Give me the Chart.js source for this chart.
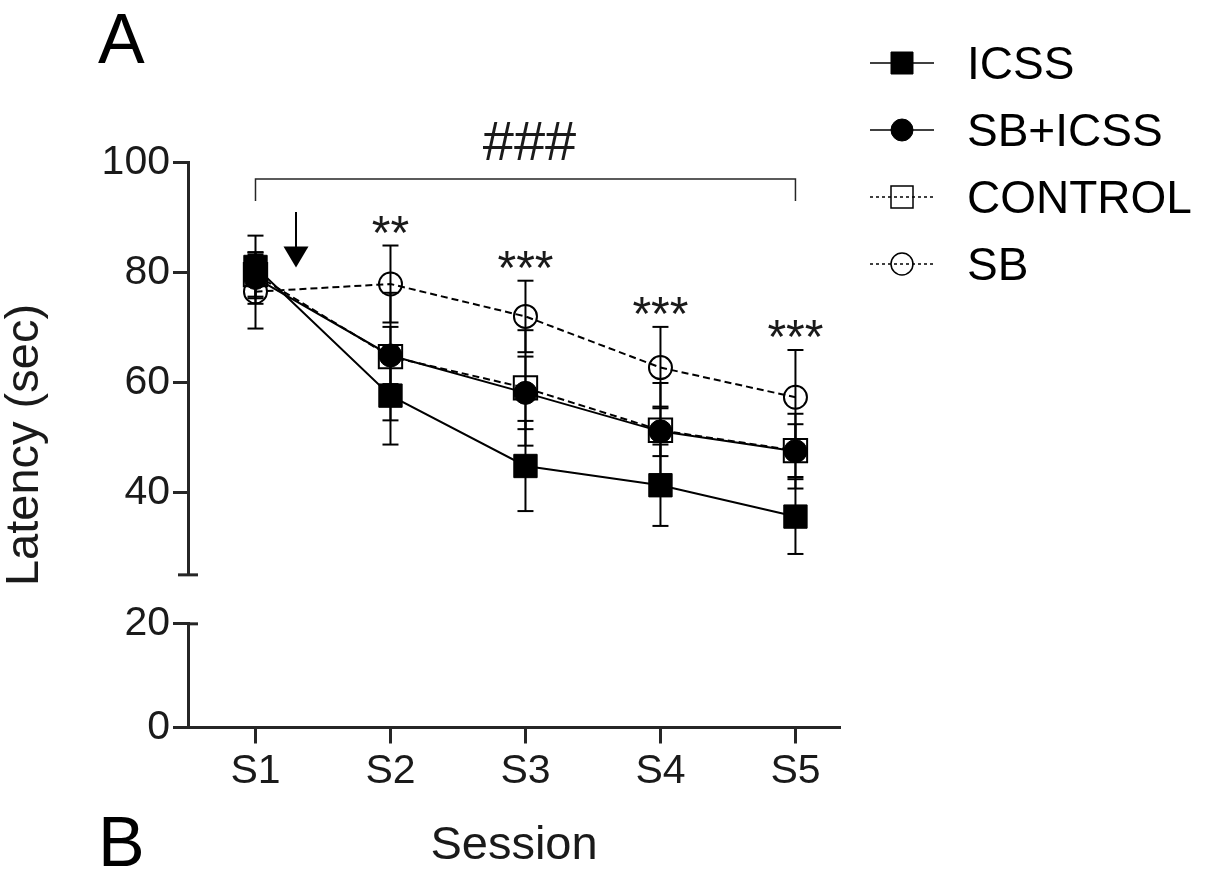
<!DOCTYPE html>
<html>
<head>
<meta charset="utf-8">
<script src="https://cdn.jsdelivr.net/npm/chart.js@4.4.1/dist/chart.umd.min.js"></script>
<style>
html, body { margin: 0; padding: 0; background: #fff; }
#wrap { position: relative; width: 1205px; height: 870px; }
</style>
</head>
<body>
<div id="wrap"><canvas id="latency" width="1205" height="870"></canvas></div>
<script>
var sessions = ['S1', 'S2', 'S3', 'S4', 'S5'];
var icssMean = [81.0, 57.6, 44.8, 41.3, 35.6];
var icssSem = [5.7, 8.9, 8.2, 7.4, 6.8];
var sbIcssMean = [79.0, 64.9, 58.1, 51.1, 47.5];
var sbIcssSem = [4.7, 5.2, 6.6, 4.5, 6.8];
var controlMean = [79.6, 64.7, 59.0, 51.3, 47.6];
var controlSem = [4.0, 11.6, 10.5, 8.6, 4.8];
var sbMean = [76.5, 77.9, 72.0, 62.7, 57.3];
var sbSem = [6.7, 7.0, 6.5, 7.4, 8.6];
var upperTicks = [40, 60, 80, 100];
var lowerTicks = [0, 20];
var stars = ['', '**', '***', '***', '***'];

var FONT = "'Liberation Sans', Arial, sans-serif";
var AXIS = '#262626';
var INK = '#1a1a1a';

function series(label, mean, sem, style, filled, dashed) {
    var r = style === 'rect' ? 16.5 : 11.5;
    return {
        label: label,
        data: mean.map(function (v, i) { return { x: i + 1, y: v }; }),
        sem: sem,
        filled: filled,
        borderColor: '#000',
        borderWidth: 2,
        borderDash: dashed ? [7, 4] : [],
        pointStyle: style,
        pointRadius: r,
        pointHoverRadius: r,
        pointBackgroundColor: filled ? '#000' : 'rgba(0,0,0,0)',
        pointBorderColor: '#000',
        pointBorderWidth: filled ? 1 : 2,
        tension: 0,
        fill: false,
        xAxisID: 'x',
        yAxisID: 'y'
    };
}

function line(ctx, x1, y1, x2, y2) {
    ctx.beginPath();
    ctx.moveTo(x1, y1);
    ctx.lineTo(x2, y2);
    ctx.stroke();
}

// puts the glyphs (not the em box) centred on cx, cy
function centerText(ctx, text, cx, cy) {
    var m = ctx.measureText(text);
    ctx.textAlign = 'center';
    ctx.textBaseline = 'alphabetic';
    ctx.fillText(text, cx, cy + (m.actualBoundingBoxAscent - m.actualBoundingBoxDescent) / 2);
}

var extras = {
    id: 'extras',
    beforeDatasetsDraw: function (chart) {
        // error bars (SEM)
        var ctx = chart.ctx, x = chart.scales.x, y = chart.scales.y;
        ctx.save();
        ctx.strokeStyle = '#000';
        ctx.lineWidth = 2;
        chart.data.datasets.forEach(function (ds) {
            ds.data.forEach(function (p, i) {
                var px = x.getPixelForValue(p.x);
                var top = y.getPixelForValue(p.y + ds.sem[i]);
                var bot = y.getPixelForValue(p.y - ds.sem[i]);
                line(ctx, px, top, px, bot);
                line(ctx, px - 8, top, px + 8, top);
                line(ctx, px - 8, bot, px + 8, bot);
            });
        });
        ctx.restore();
    },
    afterDraw: function (chart) {
        var ctx = chart.ctx, x = chart.scales.x, y = chart.scales.y, low = chart.scales.yLow;
        var ax = chart.chartArea.left;
        ctx.save();

        // axis break marks
        ctx.strokeStyle = AXIS;
        ctx.lineWidth = 3;
        line(ctx, ax - 10, y.bottom, ax + 10, y.bottom);
        var p20 = low.getPixelForValue(20);
        line(ctx, ax, p20, ax + 10, p20);

        // ### bracket S1..S5
        ctx.lineWidth = 1.5;
        var bx1 = x.getPixelForValue(1), bx2 = x.getPixelForValue(5);
        var by = y.getPixelForValue(97), bf = y.getPixelForValue(93);
        ctx.beginPath();
        ctx.moveTo(bx1, bf);
        ctx.lineTo(bx1, by);
        ctx.lineTo(bx2, by);
        ctx.lineTo(bx2, bf);
        ctx.stroke();
        ctx.fillStyle = INK;
        ctx.font = '56px ' + FONT;
        centerText(ctx, '###', x.getPixelForValue(3.03), y.getPixelForValue(103.9));

        // arrow after S1
        var arx = x.getPixelForValue(1.3);
        var a1 = y.getPixelForValue(91), a2 = y.getPixelForValue(84.7), a3 = y.getPixelForValue(80.9);
        ctx.strokeStyle = '#000';
        ctx.fillStyle = '#000';
        ctx.lineWidth = 2;
        line(ctx, arx, a1, arx, a2 + 1);
        ctx.beginPath();
        ctx.moveTo(arx - 12.5, a2);
        ctx.lineTo(arx + 12.5, a2);
        ctx.lineTo(arx, a3);
        ctx.closePath();
        ctx.fill();

        // significance stars above SB error bars
        ctx.fillStyle = INK;
        ctx.font = '48px ' + FONT;
        stars.forEach(function (s, i) {
            if (!s) return;
            centerText(ctx, s, x.getPixelForValue(i + 1), y.getPixelForValue(sbMean[i] + sbSem[i]) - 21);
        });

        // panel letters
        ctx.font = '70px ' + FONT;
        ctx.textAlign = 'left';
        ctx.textBaseline = 'alphabetic';
        ctx.fillStyle = '#000';
        ctx.fillText('A', 98, 63);
        ctx.fillText('B', 98, 866);

        // legend
        chart.data.datasets.forEach(function (ds, k) {
            var cy = 63 + k * 67, cx = 902;
            ctx.strokeStyle = '#000';
            ctx.lineWidth = 1.5;
            ctx.setLineDash(ds.borderDash.length ? [3, 3] : []);
            line(ctx, 870, cy, 934, cy);
            ctx.setLineDash([]);
            ctx.lineWidth = ds.filled ? 1 : 1.5;
            ctx.beginPath();
            if (ds.pointStyle === 'rect') {
                ctx.rect(cx - 11, cy - 11, 22, 22);
            } else {
                ctx.arc(cx, cy, 11, 0, Math.PI * 2);
            }
            if (ds.filled) {
                ctx.fill();
            }
            ctx.stroke();
            ctx.fillStyle = '#000';
            ctx.font = '46px ' + FONT;
            var m = ctx.measureText(ds.label);
            ctx.textAlign = 'left';
            ctx.fillText(ds.label, 967, cy + (m.actualBoundingBoxAscent - m.actualBoundingBoxDescent) / 2);
        });
        ctx.restore();
    }
};

var tickFont = { family: FONT, size: 41 };
var titleFont = { family: FONT, size: 47, lineHeight: 1 };

new Chart(document.getElementById('latency'), {
    type: 'line',
    data: {
        datasets: [
            series('ICSS', icssMean, icssSem, 'rect', true, false),
            series('SB+ICSS', sbIcssMean, sbIcssSem, 'circle', true, false),
            series('CONTROL', controlMean, controlSem, 'rect', false, true),
            series('SB', sbMean, sbSem, 'circle', false, true)
        ]
    },
    options: {
        responsive: false,
        devicePixelRatio: 1,
        animation: false,
        layout: { padding: { top: 162.5, right: 365, left: 0, bottom: 0 } },
        plugins: {
            legend: { display: false },
            tooltip: { enabled: false }
        },
        scales: {
            x: {
                type: 'linear',
                min: 0.5,
                max: 5.33,
                afterBuildTicks: function (s) {
                    s.ticks = sessions.map(function (n, i) { return { value: i + 1 }; });
                },
                afterFit: function (s) { s.height = 142.5; },
                ticks: {
                    font: tickFont, color: INK, padding: 4,
                    callback: function (v) { return sessions[v - 1]; }
                },
                grid: { drawOnChartArea: false, tickLength: 16, tickWidth: 3, tickColor: AXIS },
                border: { color: AXIS, width: 3 },
                title: { display: true, text: 'Session', font: titleFont, color: INK, padding: { top: 0, bottom: 0 } }
            },
            yTitle: {
                type: 'linear',
                position: 'left',
                weight: 10,
                min: 0,
                max: 1,
                afterFit: function (s) { s.width = 60; },
                ticks: { display: false },
                grid: { display: false },
                border: { display: false },
                title: { display: true, text: 'Latency (sec)', font: titleFont, color: INK, padding: { top: 2, bottom: 0 } }
            },
            y: {
                type: 'linear',
                position: 'left',
                stack: 'latency',
                stackWeight: 412.5,
                weight: 3,
                min: 25,
                max: 100,
                afterBuildTicks: function (s) {
                    s.ticks = upperTicks.map(function (v) { return { value: v }; });
                },
                afterFit: function (s) { s.width = 128; },
                ticks: { font: tickFont, color: INK, padding: 3 },
                grid: { drawOnChartArea: false, tickLength: 15, tickWidth: 3, tickColor: AXIS },
                border: { color: AXIS, width: 3 }
            },
            yGap: {
                type: 'linear',
                position: 'left',
                stack: 'latency',
                stackWeight: 49,
                weight: 2,
                min: 0,
                max: 1,
                afterFit: function (s) { s.width = 128; },
                ticks: { display: false },
                grid: { display: false },
                border: { display: false }
            },
            yLow: {
                type: 'linear',
                position: 'left',
                stack: 'latency',
                stackWeight: 103.7,
                weight: 1,
                min: 0,
                max: 20,
                afterBuildTicks: function (s) {
                    s.ticks = lowerTicks.map(function (v) { return { value: v }; });
                },
                afterFit: function (s) { s.width = 128; },
                ticks: { font: tickFont, color: INK, padding: 3 },
                grid: { drawOnChartArea: false, tickLength: 15, tickWidth: 3, tickColor: AXIS },
                border: { color: AXIS, width: 3 }
            }
        }
    },
    plugins: [extras]
});
</script>
</body>
</html>
